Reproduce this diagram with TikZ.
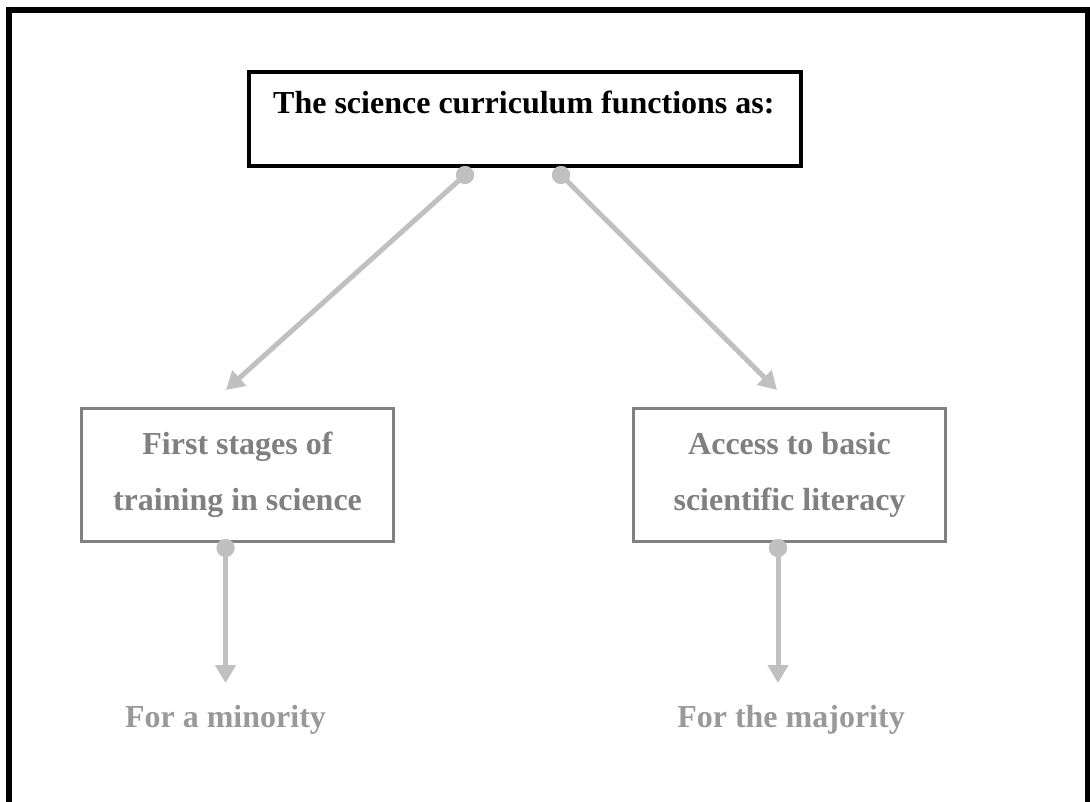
\documentclass[tikz,border=0pt]{standalone}
\usepackage{fontspec}
\setmainfont{Liberation Serif}
\usetikzlibrary{arrows.meta}
\definecolor{linkgray}{HTML}{C0C0C0}
\definecolor{boxgray}{HTML}{808080}
\definecolor{notegray}{HTML}{999999}
\begin{document}
\begin{tikzpicture}[x=1pt,y=-1pt,
  headbox/.style={draw=black,line width=4.5pt,minimum width=552pt,minimum height=94pt,inner sep=0pt},
  headtext/.style={font=\fontsize{32}{38}\selectfont\bfseries,text=black,inner sep=0pt},
  stagebox/.style={draw=boxgray,line width=3.5pt,minimum width=312pt,minimum height=133pt,
    inner sep=0pt,align=center,text=boxgray,
    font=\fontsize{32}{56}\selectfont\bfseries},
  notetext/.style={font=\fontsize{32}{38}\selectfont\bfseries,text=notegray,inner sep=0pt},
  dot/.style={circle,fill=linkgray,minimum size=18pt,inner sep=0pt},
  link/.style={draw=linkgray,line width=5pt,-{Triangle[length=18pt,width=20pt]}}]
  \useasboundingbox (0,0) rectangle (1090,802);
  % outer frame, open at the foot of the page
  \draw[line width=6pt] (9,10.5) rectangle (1088,830);
  % heading box
  \node[headbox] (head) at (525,119) {};
  \node[headtext,anchor=base west] (headlabel) at (273,113.5) {The science curriculum functions as:};
  % the two functions
  \node[stagebox] (train) at (237.5,475) {First stages of\\training in science};
  \node[stagebox] (access) at (789.5,475) {Access to basic\\scientific literacy};
  % who each one serves
  \node[notetext,anchor=base] (minority) at (225.5,727.5) {For a minority};
  \node[notetext,anchor=base] (majority) at (791,727.5) {For the majority};
  % connectors
  \node[dot] (d1) at (465,175) {};
  \node[dot] (d2) at (561,175) {};
  \node[dot] (d3) at (225.5,548) {};
  \node[dot] (d4) at (778,548) {};
  \coordinate (t1) at (226,390);
  \coordinate (t2) at (777,390);
  \coordinate (t3) at (225.5,683);
  \coordinate (t4) at (778,683);
  \draw[link] (d1.center) -- (t1);
  \draw[link] (d2.center) -- (t2);
  \draw[link] (d3.center) -- (t3);
  \draw[link] (d4.center) -- (t4);
  \node[dot] at (d1) {};
  \node[dot] at (d2) {};
  \node[dot] at (d3) {};
  \node[dot] at (d4) {};
\end{tikzpicture}
\end{document}
